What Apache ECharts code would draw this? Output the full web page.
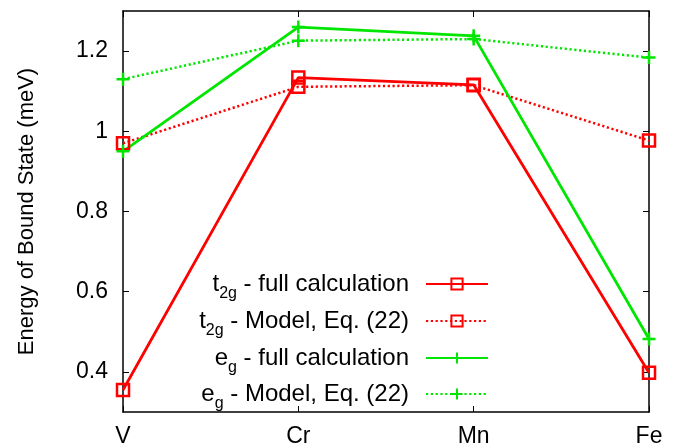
<!DOCTYPE html>
<html>
<head>
<meta charset="utf-8">
<script src="https://cdn.jsdelivr.net/npm/echarts@6/dist/echarts.min.js"></script>
<style>html,body{margin:0;padding:0;background:#fff;}#c{width:689px;height:448px;}</style>
</head>
<body>
<div id="c"></div>
<script>
var categories = ['V', 'Cr', 'Mn', 'Fe'];
var t2gFull = [0.355, 1.134, 1.116, 0.398];
var t2gModel = [0.970, 1.111, 1.115, 0.977];
var egFull = [0.950, 1.260, 1.238, 0.482];
var egModel = [1.130, 1.226, 1.230, 1.184];
var yTicks = [0.4, 0.6, 0.8, 1.0, 1.2];
var seriesNames = ['t2g - full calculation', 't2g - Model, Eq. (22)', 'eg - full calculation', 'eg - Model, Eq. (22)'];
var legendLabels = {
  't2g - full calculation': '{n|t}{s|2g}{e| - full calculation}',
  't2g - Model, Eq. (22)': '{n|t}{s|2g}{e| - Model, Eq. (22)}',
  'eg - full calculation': '{n|e}{s|g}{e| - full calculation}',
  'eg - Model, Eq. (22)': '{n|e}{s|g}{e| - Model, Eq. (22)}'
};
var yTitle = 'Energy of Bound State (meV)';

var FONT = 'Liberation Sans';
var RED = '#ff0000', GREEN = '#00e600';
var PLUS = 'path://M0,5L10,5M5,0L5,10';

function mkSeries(name, data, color, dotted, square) {
  return {
    name: name, type: 'line', data: data, xAxisIndex: 0, yAxisIndex: 0,
    symbol: square ? 'rect' : PLUS,
    symbolSize: square ? 12 : 13,
    showSymbol: true,
    lineStyle: { color: color, width: dotted ? 2.5 : 2.8, type: dotted ? [2.2, 2.6] : 'solid' },
    itemStyle: { color: square ? 'none' : color, borderColor: color, borderWidth: 2.5 },
    emphasis: { disabled: true },
    animation: false
  };
}

var rich = {
  n: { fontSize: 24, fontFamily: FONT, color: '#000', lineHeight: 36, verticalAlign: 'middle' },
  s: { fontSize: 16, fontFamily: FONT, color: '#000', lineHeight: 12, verticalAlign: 'bottom' },
  e: { fontSize: 24, fontFamily: FONT, color: '#000', lineHeight: 36, verticalAlign: 'middle', padding: [0, 12, 0, 0] }
};
var rowTops = [272, 309, 346, 382];
var legends = seriesNames.map(function (nm, i) {
  return {
    data: [nm], right: 200, top: rowTops[i], padding: 0, align: 'right',
    itemWidth: 62, itemHeight: 14, selectedMode: false,
    formatter: function (n) { return legendLabels[n]; },
    textStyle: { fontSize: 24, fontFamily: FONT, color: '#000', rich: rich }
  };
});

var chart = echarts.init(document.getElementById('c'), null, { renderer: 'canvas' });
chart.setOption({
  animation: false,
  backgroundColor: '#fff',
  grid: { left: 123, right: 40, top: 11, bottom: 34, containLabel: false },
  legend: legends,
  xAxis: [{
    type: 'category', data: categories, boundaryGap: false, position: 'bottom',
    axisLine: { lineStyle: { color: '#000', width: 1.5 } },
    axisTick: { inside: true, length: 6, lineStyle: { color: '#000', width: 1 } },
    axisLabel: { fontSize: 23, fontFamily: FONT, color: '#000', margin: 13 },
    splitLine: { show: false }
  }, {
    type: 'category', data: categories, boundaryGap: false, position: 'top',
    axisLine: { lineStyle: { color: '#000', width: 1.5 } },
    axisTick: { inside: true, length: 6, lineStyle: { color: '#000', width: 1 } },
    axisLabel: { show: false }, splitLine: { show: false }
  }],
  yAxis: [{
    type: 'value', min: 0.3, max: 1.3, position: 'left',
    name: yTitle, nameLocation: 'middle', nameGap: 85,
    nameTextStyle: { fontSize: 22, fontFamily: FONT, color: '#000' },
    axisLine: { show: true, lineStyle: { color: '#000', width: 1.5 } },
    axisTick: { show: true, inside: true, length: 6, customValues: yTicks, lineStyle: { color: '#000', width: 1 } },
    axisLabel: { fontSize: 23, fontFamily: FONT, color: '#000', margin: 15, customValues: yTicks },
    splitLine: { show: false }
  }, {
    type: 'value', min: 0.3, max: 1.3, position: 'right',
    axisLine: { show: true, lineStyle: { color: '#000', width: 1.5 } },
    axisTick: { show: true, inside: true, length: 6, customValues: yTicks, lineStyle: { color: '#000', width: 1 } },
    axisLabel: { show: false }, splitLine: { show: false }
  }],
  series: [
    mkSeries(seriesNames[0], t2gFull, RED, false, true),
    mkSeries(seriesNames[1], t2gModel, RED, true, true),
    mkSeries(seriesNames[2], egFull, GREEN, false, false),
    mkSeries(seriesNames[3], egModel, GREEN, true, false)
  ]
});
</script>
</body>
</html>
